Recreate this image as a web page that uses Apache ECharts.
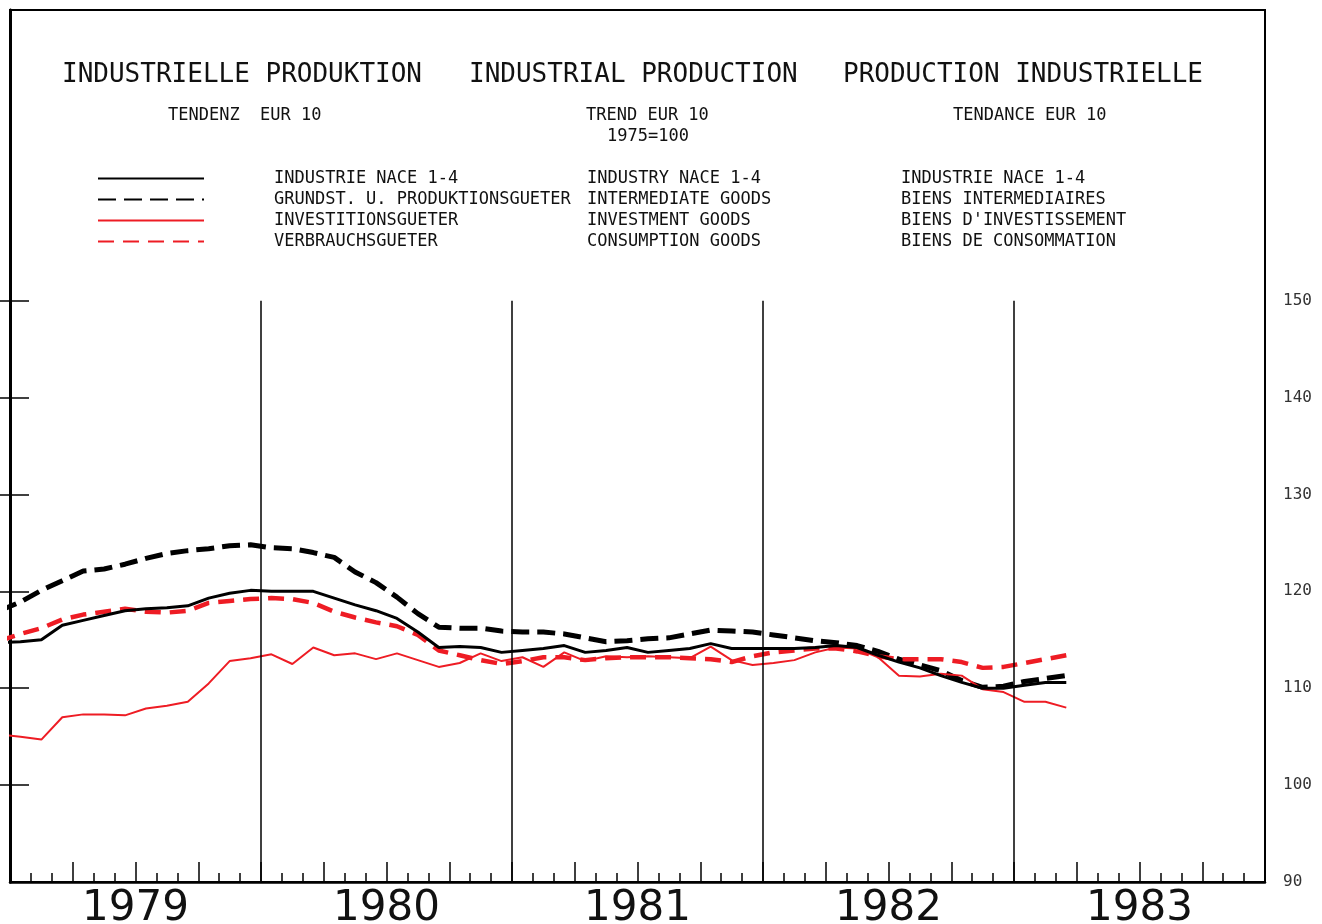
<!DOCTYPE html>
<html>
<head>
<meta charset="utf-8">
<script src="https://cdn.jsdelivr.net/npm/echarts@6/dist/echarts.min.js"></script>
<style>
html,body{margin:0;padding:0;background:#fff;}
#c{width:1322px;height:924px;}
</style>
</head>
<body>
<div id="c"></div>
<script>
// Monthly values, first value = Dec 1978, last = Mar 1983 (mid-month)
const years = ['1979', '1980', '1981', '1982', '1983'];
const yearBoundaries = [12, 24, 36, 48];
const yLabelValues = [90, 100, 110, 120, 130, 140, 150];
const yTickValues = [100, 110, 120, 130, 140, 150];

const industry = [114.7, 114.8, 115.0, 116.5, 117.0, 117.5, 118.0, 118.2, 118.3, 118.5, 119.3, 119.8, 120.1, 120.0, 120.0, 120.0, 119.3, 118.6, 118.0, 117.2, 115.8, 114.2, 114.3, 114.2, 113.7, 113.9, 114.1, 114.4, 113.7, 113.9, 114.2, 113.7, 113.9, 114.1, 114.6, 114.1, 114.1, 114.1, 114.1, 114.2, 114.4, 114.2, 113.4, 112.7, 112.1, 111.3, 110.6, 110.0, 110.0, 110.3, 110.6, 110.6];
const intermediate = [118.0, 118.9, 120.1, 121.1, 122.1, 122.3, 122.8, 123.4, 123.9, 124.2, 124.4, 124.7, 124.8, 124.5, 124.4, 124.0, 123.5, 122.0, 120.9, 119.4, 117.7, 116.3, 116.2, 116.2, 115.9, 115.8, 115.8, 115.6, 115.2, 114.8, 114.9, 115.1, 115.2, 115.6, 116.0, 115.9, 115.8, 115.5, 115.2, 114.9, 114.7, 114.4, 113.8, 113.0, 112.4, 111.8, 110.8, 110.1, 110.2, 110.7, 111.0, 111.3];
const investment = [105.2, 105.0, 104.7, 107.0, 107.3, 107.3, 107.2, 107.9, 108.2, 108.6, 110.5, 112.8, 113.1, 113.5, 112.5, 114.2, 113.4, 113.6, 113.0, 113.6, 112.9, 112.2, 112.6, 113.6, 112.8, 113.2, 112.2, 113.7, 112.8, 113.3, 113.2, 113.3, 113.2, 113.1, 114.3, 112.9, 112.4, 112.6, 112.9, 113.7, 114.2, 114.1, 113.2, 111.3, 111.2, 111.5, 111.3, 109.9, 109.6, 108.6, 108.6, 108.0];
const consumption = [114.9, 115.6, 116.2, 117.1, 117.6, 117.9, 118.2, 117.9, 117.8, 118.0, 118.8, 119.0, 119.2, 119.3, 119.2, 118.8, 117.9, 117.3, 116.8, 116.4, 115.5, 113.9, 113.4, 112.9, 112.5, 112.8, 113.2, 113.2, 112.9, 113.1, 113.2, 113.2, 113.2, 113.1, 113.0, 112.7, 113.3, 113.7, 113.9, 114.1, 114.1, 113.8, 113.3, 113.0, 113.0, 113.0, 112.7, 112.1, 112.2, 112.6, 113.0, 113.4];

const legendDE = ['INDUSTRIE NACE 1-4', 'GRUNDST. U. PRODUKTIONSGUETER', 'INVESTITIONSGUETER', 'VERBRAUCHSGUETER'];
const legendEN = ['INDUSTRY NACE 1-4', 'INTERMEDIATE GOODS', 'INVESTMENT GOODS', 'CONSUMPTION GOODS'];
const legendFR = ['INDUSTRIE NACE 1-4', 'BIENS INTERMEDIAIRES', "BIENS D'INVESTISSEMENT", 'BIENS DE CONSOMMATION'];

const MONO = '"DejaVu Sans Mono", "Liberation Mono", monospace';
const RED = '#ee1c24';

function pts(vals) { return vals.map((v, i) => [i - 0.5, v]); }

const chart = echarts.init(document.getElementById('c'), null, {renderer: 'canvas'});

const option = {
  backgroundColor: '#fff',
  animation: false,
  grid: {left: 10, right: 57, top: 10, bottom: 42, show: true, borderColor: '#000', borderWidth: 2, backgroundColor: 'transparent', containLabel: false, outerBoundsMode: 'none'},
  xAxis: {
    type: 'value', min: 0, max: 60, interval: 3,
    axisLine: {show: true, lineStyle: {color: '#000', width: 2.5}},
    axisTick: {show: true, inside: true, length: 20, lineStyle: {color: '#000', width: 1.5}},
    minorTick: {show: true, splitNumber: 3, length: 9, lineStyle: {color: '#000', width: 1.5}},
    splitLine: {show: false},
    axisLabel: {
      show: true, customValues: [6, 18, 30, 42, 54], margin: 6,
      formatter: v => years[Math.round((v - 6) / 12)],
      fontFamily: '"DejaVu Sans", sans-serif', fontSize: 42, color: '#111'
    }
  },
  yAxis: [
    {
      type: 'value', min: 90, max: 180, interval: 10, position: 'right',
      axisLine: {show: true, lineStyle: {color: '#000', width: 2.5}},
      axisTick: {show: true, inside: true, length: 18, customValues: yTickValues, lineStyle: {color: '#000', width: 1.5}},
      axisLabel: {show: true, customValues: yLabelValues, margin: 18, fontFamily: MONO, fontSize: 16, color: '#333', align: 'left'},
      splitLine: {show: false}
    },
    {
      type: 'value', min: 90, max: 180, interval: 10, position: 'left',
      axisLine: {show: true, lineStyle: {color: '#000', width: 3}},
      axisTick: {show: true, inside: true, length: 19, customValues: yTickValues, lineStyle: {color: '#000', width: 1.5}},
      axisLabel: {show: false},
      splitLine: {show: false}
    }
  ],
  legend: {
    show: true, orient: 'vertical', left: 97, top: 170, padding: 0, itemGap: 4,
    itemWidth: 106, itemHeight: 14, selectedMode: false,
    itemStyle: {opacity: 0},
    data: legendDE,
    formatter: name => {
      const i = legendDE.indexOf(name);
      return '{a|' + legendDE[i] + '}{b|' + legendEN[i] + '}{c|' + legendFR[i] + '}';
    },
    textStyle: {
      fontFamily: MONO, fontSize: 17, color: '#111', lineHeight: 17,
      rich: {
        a: {fontFamily: MONO, fontSize: 17, color: '#111', width: 313, padding: [0, 0, 0, 65]},
        b: {fontFamily: MONO, fontSize: 17, color: '#111', width: 314},
        c: {fontFamily: MONO, fontSize: 17, color: '#111'}
      }
    }
  },
  graphic: [
    {type: 'text', x: 62, y: 75, style: {text: 'INDUSTRIELLE PRODUKTION', font: '26px ' + MONO, fill: '#111', textVerticalAlign: 'middle'}},
    {type: 'text', x: 469, y: 75, style: {text: 'INDUSTRIAL PRODUCTION', font: '26px ' + MONO, fill: '#111', textVerticalAlign: 'middle'}},
    {type: 'text', x: 843, y: 75, style: {text: 'PRODUCTION INDUSTRIELLE', font: '26px ' + MONO, fill: '#111', textVerticalAlign: 'middle'}},
    {type: 'text', x: 168, y: 116, style: {text: 'TENDENZ  EUR 10', font: '17px ' + MONO, fill: '#111', textVerticalAlign: 'middle'}},
    {type: 'text', x: 586, y: 116, style: {text: 'TREND EUR 10', font: '17px ' + MONO, fill: '#111', textVerticalAlign: 'middle'}},
    {type: 'text', x: 607, y: 137, style: {text: '1975=100', font: '17px ' + MONO, fill: '#111', textVerticalAlign: 'middle'}},
    {type: 'text', x: 953, y: 116, style: {text: 'TENDANCE EUR 10', font: '17px ' + MONO, fill: '#111', textVerticalAlign: 'middle'}}
  ],
  series: [
    {
      name: legendDE[0], type: 'line', data: pts(industry), symbol: 'none', z: 4,
      lineStyle: {color: '#000', width: 3},
      itemStyle: {color: '#000'},
      markLine: {
        silent: true, symbol: 'none', label: {show: false},
        lineStyle: {color: '#000', width: 1.5, type: 'solid'},
        emphasis: {disabled: true},
        data: yearBoundaries.map(m => [{coord: [m, 90]}, {coord: [m, 150]}])
      }
    },
    {
      name: legendDE[1], type: 'line', data: pts(intermediate), symbol: 'none', z: 3,
      lineStyle: {color: '#000', width: 5, type: [18, 8]},
      itemStyle: {color: '#000'}
    },
    {
      name: legendDE[2], type: 'line', data: pts(investment), symbol: 'none', z: 3,
      lineStyle: {color: RED, width: 2},
      itemStyle: {color: RED}
    },
    {
      name: legendDE[3], type: 'line', data: pts(consumption), symbol: 'none', z: 3,
      lineStyle: {color: RED, width: 4.5, type: [16, 9]},
      itemStyle: {color: RED}
    }
  ]
};
chart.setOption(option);
</script>
</body>
</html>
